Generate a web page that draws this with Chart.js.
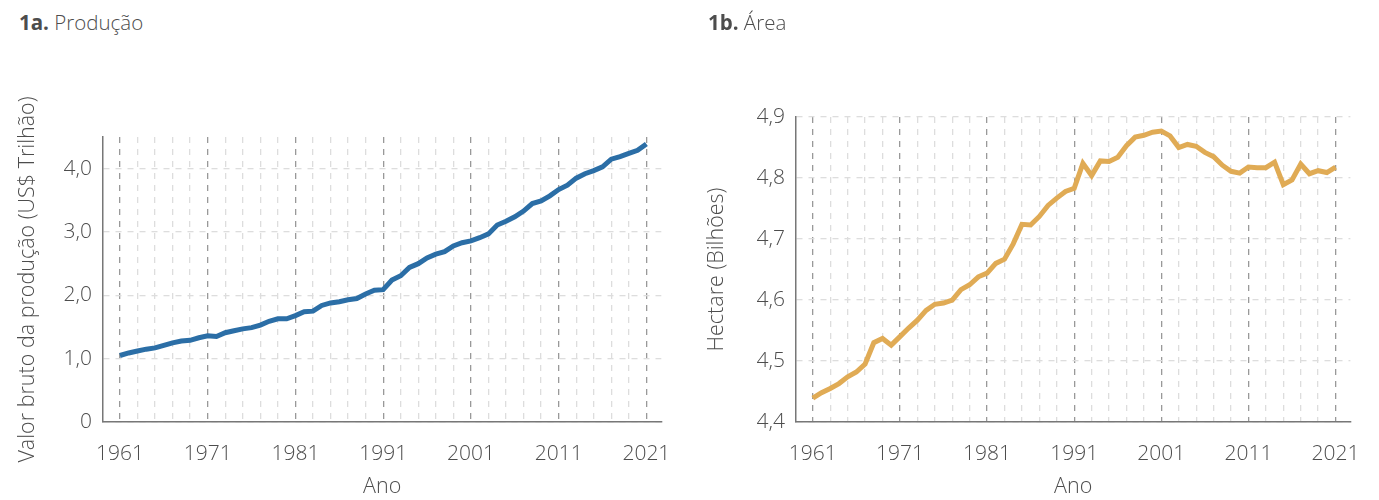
<!DOCTYPE html>
<html>
<head>
<meta charset="utf-8">
<script src="https://cdn.jsdelivr.net/npm/chart.js@4"></script>
<style>
  body { margin: 0; background: #fff; font-family: "Open Sans", sans-serif; color: #4d4d4d; }
  .panel { position: absolute; top: 0; width: 690px; height: 500px; }
  .panel h3 { position: absolute; top: 8px; left: 19px; margin: 0; font-size: 20.5px; font-weight: 300; color: #4d4d4d; }
  .panel h3 b { font-weight: 700; }
  canvas { position: absolute; left: 0; top: 0; }
</style>
</head>
<body>
<div class="panel" style="left:0">
  <h3><b>1a.</b> Produção</h3>
  <canvas id="prod" width="690" height="500"></canvas>
</div>
<div class="panel" style="left:689px">
  <h3><b>1b.</b> Área</h3>
  <canvas id="area" width="690" height="500"></canvas>
</div>
<script>
const years = [];
for (let y = 1961; y <= 2021; y++) years.push(y);

// valor bruto da produção, US$ trilhão
const production = [
  1.05, 1.09, 1.12, 1.15, 1.17, 1.21, 1.25, 1.28, 1.29, 1.33,
  1.36, 1.35, 1.41, 1.44, 1.47, 1.49, 1.53, 1.59, 1.63, 1.63,
  1.68, 1.74, 1.75, 1.84, 1.88, 1.90, 1.93, 1.95, 2.02, 2.08,
  2.09, 2.24, 2.31, 2.44, 2.50, 2.59, 2.65, 2.69, 2.78, 2.83,
  2.86, 2.91, 2.97, 3.11, 3.17, 3.24, 3.33, 3.45, 3.49, 3.57,
  3.67, 3.74, 3.85, 3.92, 3.97, 4.03, 4.15, 4.19, 4.24, 4.29,
  4.39
];

// área, hectare (bilhões)
const area = [
  4.439, 4.448, 4.455, 4.463, 4.474, 4.482, 4.495, 4.530, 4.537, 4.526,
  4.540, 4.554, 4.567, 4.583, 4.593, 4.595, 4.600, 4.617, 4.625, 4.638,
  4.644, 4.660, 4.667, 4.692, 4.724, 4.723, 4.737, 4.755, 4.767, 4.778,
  4.783, 4.824, 4.804, 4.828, 4.827, 4.834, 4.853, 4.867, 4.870, 4.875,
  4.877, 4.869, 4.850, 4.855, 4.852, 4.842, 4.835, 4.821, 4.811, 4.808,
  4.818, 4.817, 4.817, 4.826, 4.789, 4.797, 4.823, 4.807, 4.812, 4.809,
  4.818
];

const prodTicks = [0, 1, 2, 3, 4];
const areaTicks = [4.4, 4.5, 4.6, 4.7, 4.8, 4.9];
const yearTicks = [];
for (let y = 1961; y <= 2021; y += 2) yearTicks.push(y);

const TICK_FONT = { family: '"Open Sans", sans-serif', size: 21, weight: 300 };
const TITLE_FONT = { family: '"Open Sans", sans-serif', size: 21.5, weight: 300 };
const TXT = '#4d4d4d';

function makeChart(id, values, color, yTicks, yMin, yMax, yTitle, yLabel, topPad, yWidth, rightPad) {
  return new Chart(document.getElementById(id), {
    type: 'line',
    data: {
      datasets: [{
        data: years.map((y, i) => ({ x: y, y: values[i] })),
        borderColor: color,
        borderWidth: 5,
        pointRadius: 0,
        tension: 0
      }]
    },
    options: {
      responsive: false,
      animation: false,
      layout: { padding: { top: topPad, right: rightPad, left: 0, bottom: 0 } },
      plugins: { legend: { display: false }, tooltip: { enabled: false } },
      scales: {
        x: {
          type: 'linear',
          min: 1959.07,
          max: 2022.7,
          afterBuildTicks: s => { s.ticks = yearTicks.map(v => ({ value: v })); },
          afterFit: s => { s.height = 78; },
          ticks: {
            autoSkip: false, maxRotation: 0, padding: 19,
            color: TXT, font: TICK_FONT,
            callback: v => ((v - 1961) % 10 === 0 ? String(v) : '')
          },
          grid: {
            drawTicks: false,
            color: c => ((c.tick && (c.tick.value - 1961) % 10 === 0) ? '#999' : '#ddd'),
            lineWidth: 1.3
          },
          border: { display: true, color: '#777', width: 1.5, dash: [6, 6] },
          title: { display: true, text: 'Ano', color: TXT, font: TITLE_FONT, padding: { top: 0, bottom: 0 } }
        },
        y: {
          min: yMin,
          max: yMax,
          afterBuildTicks: s => { s.ticks = yTicks.map(v => ({ value: v })); },
          afterFit: s => { s.width = yWidth; },
          ticks: {
            padding: 11, color: TXT, font: TICK_FONT,
            callback: yLabel
          },
          grid: { drawTicks: false, color: '#ddd', lineWidth: 1.3 },
          border: { display: true, color: '#777', width: 1.5, dash: [6, 6] },
          title: { display: true, text: yTitle, color: TXT, font: TITLE_FONT, padding: { top: 15, bottom: 0 } }
        }
      }
    }
  });
}

makeChart('prod', production, '#2b6ea6', prodTicks, 0, 4.5,
  'Valor bruto da produção (US$ Trilhão)',
  v => (v === 0 ? '0' : v.toFixed(1).replace('.', ',')), 137, 103, 24);

makeChart('area', area, '#e0ab55', areaTicks, 4.4, 4.9,
  'Hectare (Bilhões)',
  v => v.toFixed(1).replace('.', ','), 117, 107, 17);
</script>
</body>
</html>
